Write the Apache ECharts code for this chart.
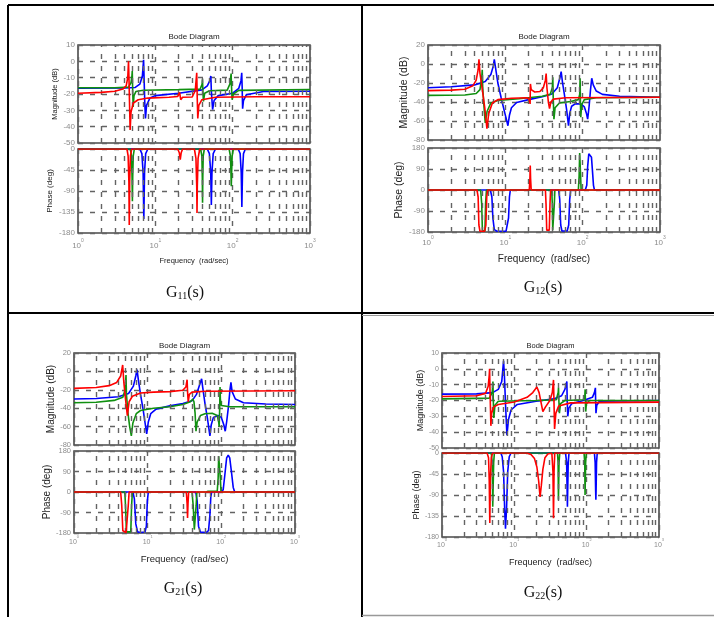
<!DOCTYPE html>
<html>
<head>
<meta charset="utf-8">
<title>Bode diagrams G11 G12 G21 G22</title>
<script src="https://cdn.jsdelivr.net/npm/echarts@6/dist/echarts.min.js"></script>
<style>
  html, body { margin: 0; padding: 0; background: #fff; }
  #main { width: 714px; height: 617px; }
</style>
</head>
<body>
<div id="main"></div>
<script>
// ---- data: [frequency rad/s, value] ----
var minorFreqs = [2,3,4,5,6,7,8,9,20,30,40,50,60,70,80,90,200,300,400,500,600,700,800,900];
var magTicksA = [10, 0, -10, -20, -30, -40, -50];
var phTicksA = [0, -45, -90, -135, -180];
var magTicksB = [20, 0, -20, -40, -60, -80];
var phTicksB = [180, 90, 0, -90, -180];

// G11
var g11MagRed = [[1,-19.5],[2,-19],[3,-18.3],[3.8,-17],[4.2,-15],[4.4,-10],[4.5,0],[4.57,-12],[4.65,-28],[4.72,-42],[4.85,-31],[5.2,-25.5],[6,-23.5],[8,-22.5],[15,-22],[19.5,-21.5],[20.6,-19],[21.3,-23.5],[22.5,-22],[30,-21.8],[32.8,-18],[34.3,-7],[34.8,-22],[35.4,-35],[36.5,-27],[40,-23.5],[60,-22],[200,-21.7],[1000,-21.7]];
var g11MagGreen = [[1,-16.2],[3,-16.2],[4.5,-15.8],[4.85,-13],[4.98,-9],[5.03,-6],[5.08,-15],[5.17,-28],[5.3,-21],[5.6,-18.5],[7,-17.7],[20,-17.3],[38,-17],[40.2,-14],[40.7,-11],[41.2,-18],[41.9,-24.5],[43.5,-19.5],[50,-18],[85,-17.6],[92,-14],[95.5,-7.5],[96.5,-15],[98.5,-23.5],[102,-20],[120,-17.8],[1000,-17.2]];
var g11MagBlue = [[1,-16.5],[4,-16.3],[5.5,-16],[6.3,-14],[6.8,-9],[7.05,1],[7.15,-10],[7.3,-25],[7.45,-35],[7.7,-27],[8.5,-22.5],[10,-21],[20,-19.5],[40,-17.5],[47,-15],[50.5,-12],[52.2,-9],[53,-18],[55,-29.5],[57.5,-24],[65,-21],[100,-19.5],[120,-16.5],[128,-12],[131,-7],[132.5,-15],[134.5,-29],[138,-24],[150,-20.5],[250,-18.5],[1000,-18.3]];
var g11PhRed = [[1,0],[4.3,0],[4.45,-15],[4.55,-70],[4.6,-163],[4.66,-70],[4.76,-15],[4.95,0],[19.5,0],[20.4,-8],[21,-23],[21.6,-8],[22.5,0],[32,0],[33.5,-20],[34.3,-80],[34.6,-137],[34.9,-80],[35.7,-20],[37.5,0],[1000,0]];
var g11PhGreen = [[1,0],[4.75,0],[4.92,-15],[5.0,-60],[5.05,-112],[5.1,-60],[5.18,-15],[5.35,0],[38.5,0],[40,-15],[40.5,-60],[40.8,-115],[41.1,-60],[41.6,-15],[43,0],[90,0],[93.5,-15],[95,-50],[96,-80],[97,-50],[98.5,-15],[102,0],[1000,0]];
var g11PhBlue = [[1,0],[6.3,0],[6.7,-10],[6.95,-50],[7.1,-150],[7.25,-50],[7.5,-10],[8,0],[47,0],[50,-10],[52,-50],[53,-120],[54,-50],[56,-10],[60,0],[118,0],[125,-10],[129,-50],[131.5,-124],[134,-50],[138,-10],[146,0],[1000,0]];

// G12
var g12MagRed = [[1,-28],[2,-27.5],[3,-26.5],[3.8,-23],[4.2,-17],[4.45,-6],[4.56,5],[4.7,-10],[5.0,-25],[5.4,-45],[5.78,-68],[6.1,-52],[6.8,-41],[8,-37.5],[12,-36],[19,-35.5],[20.4,-37],[20.9,-42],[21.1,-21],[21.6,-27],[24,-29.5],[28,-29],[31,-25],[33,-17],[33.7,-10],[34.5,-25],[36,-40],[37.3,-47],[38.8,-40],[42,-37],[60,-35.5],[1000,-35]];
var g12MagGreen = [[1,-33],[3,-32.7],[4.2,-31],[4.7,-27],[4.95,-15],[5.03,-6],[5.1,-25],[5.3,-45],[5.5,-62],[5.8,-50],[6.5,-41],[8,-38.5],[15,-36.5],[30,-34],[38,-32],[40.5,-25],[41.1,-14],[41.6,-35],[42.5,-58],[44,-46],[50,-41],[70,-39.5],[88,-37.5],[91.5,-32],[92.7,-15],[93.5,-40],[94.5,-56],[97,-43],[105,-37.5],[150,-35.5],[1000,-35]];
var g12MagBlue = [[1,-25],[2,-24],[4,-22],[5.5,-18.5],[6.5,-11],[7.0,-2],[7.2,5],[7.6,-8],[8.0,-20],[8.8,-35],[9.6,-48],[10.3,-58],[10.8,-65],[11.3,-54],[12,-46],[14,-40.5],[20,-37.5],[30,-34.5],[40,-31.5],[47,-25],[51,-14],[52.7,-8],[55,-20],[58,-32],[62,-48],[65.6,-65],[68,-52],[72,-44.5],[80,-42],[95,-42],[105,-45],[112,-52],[116,-58],[121,-45],[126,-28],[131,-15],[137,-22],[150,-28.5],[180,-32],[300,-34],[1000,-35]];
var g12PhRed = [[1,0],[4.3,0],[4.45,-30],[4.55,-150],[4.7,-177],[5.4,-177],[5.6,-150],[5.75,-30],[5.9,0],[20.4,0],[20.8,50],[21.0,105],[21.2,50],[21.6,0],[33,0],[33.6,-60],[34.3,-172],[37,-172],[37.8,-60],[38.5,0],[1000,0]];
var g12PhGreen = [[1,0],[4.8,0],[4.95,-60],[5.05,-175],[5.45,-175],[5.55,-60],[5.7,0],[39.8,0],[40.5,-60],[41,-172],[42.5,-172],[43,-60],[43.7,0],[88,0],[90,60],[91.5,158],[93,158],[94,60],[95.5,0],[1000,0]];
var g12PhBlue = [[1,0],[6.4,0],[6.7,-30],[6.9,-120],[7.2,-170],[7.8,-177],[10.2,-177],[10.7,-170],[11.0,-120],[11.3,-30],[11.6,0],[49,0],[50.5,-40],[52,-150],[54,-176],[63,-176],[66,-150],[68,-40],[70,0],[108,0],[113,20],[116,100],[120,155],[125,160],[130,140],[134,80],[138,20],[142,0],[1000,0]];

// G21
var g21MagRed = [[1,-18.5],[2,-17.5],[3,-15.5],[3.8,-12],[4.3,-5],[4.58,7],[4.75,-12],[5.0,-30],[5.3,-48],[5.6,-33],[6.2,-27],[8,-23.5],[12,-22.5],[20,-22],[30,-20.5],[33,-17],[34.3,-9],[34.8,-22],[35.5,-33],[36.8,-25],[40,-22.5],[60,-21.5],[1000,-21]];
var g21MagGreen = [[1,-34],[2,-33.5],[3.5,-31.5],[4.6,-28],[4.95,-20],[5.08,-4],[5.15,-25],[5.4,-45],[5.7,-60],[6.0,-70],[6.3,-56],[7,-46],[8,-42.5],[12,-40],[20,-38.5],[30,-36],[38,-33],[41,-30],[42.5,-33],[44,-45],[45.3,-65],[47,-55],[52,-48],[60,-46],[75,-45.5],[88,-48],[92,-55],[93.5,-60],[95,-40],[96,-17],[97,-30],[100,-37],[130,-38.5],[1000,-38.5]];
var g21MagBlue = [[1,-30],[2,-29.5],[4,-27.5],[5.5,-24],[6.4,-16],[6.9,-5],[7.17,2],[7.5,-10],[8.0,-25],[8.7,-42],[9.3,-58],[9.7,-68],[10.2,-55],[11,-46],[13,-41],[20,-37.5],[30,-35],[40,-32],[46,-25],[51,-14],[54,-8],[56,-18],[60,-35],[65,-52],[70,-70],[73,-58],[78,-50],[90,-48],[100,-50],[108,-58],[113,-65],[118,-55],[125,-38],[131,-20],[135,-12],[140,-22],[155,-30],[200,-34],[400,-35.5],[1000,-36]];
var g21PhRed = [[1,0],[4.3,0],[4.45,-60],[4.6,-170],[4.8,-178],[5.1,-178],[5.3,-170],[5.45,-60],[5.6,0],[33.5,0],[34.3,-50],[34.8,-114],[35.3,-50],[36,0],[1000,0]];
var g21PhGreen = [[1,0],[4.9,0],[5.0,-60],[5.15,-175],[5.9,-175],[6.05,-60],[6.2,0],[40,0],[41.5,-60],[43,-165],[44.5,-165],[45.5,-60],[46.5,0],[62,0],[66,3],[88,3],[90.5,60],[92,158],[96,158],[97,60],[99,0],[1000,0]];
var g21PhBlue = [[1,0],[6.3,0],[6.6,-30],[6.9,-140],[7.3,-175],[8,-178],[9.2,-176],[9.6,-150],[9.9,-40],[10.2,0],[45,0],[47,-40],[49,-150],[52,-176],[62,-178],[67,-170],[70,-100],[72,-20],[74,0],[100,0],[106,10],[112,80],[118,150],[124,162],[130,150],[137,90],[145,20],[152,0],[1000,0]];

// G22
var g22MagRed = [[1,-17.5],[3,-17],[4,-15.5],[4.35,-11],[4.5,-4],[4.55,0],[4.6,-12],[4.68,-25],[4.74,-36],[4.85,-28],[5.2,-24],[6,-22.5],[10,-21],[15,-18],[18,-15],[20.5,-11.5],[22,-15],[24.8,-27],[27,-24],[31,-20],[33.5,-15],[34.8,-7],[35.3,-20],[36,-38],[37.5,-28],[41,-23.5],[60,-21.5],[1000,-21]];
var g22MagGreen = [[1,-19],[4.5,-18.5],[4.95,-15],[5.06,-8],[5.12,-20],[5.2,-31],[5.4,-23],[6,-20.5],[20,-20],[38,-19.5],[40.4,-15],[40.8,-12],[41.3,-20],[42,-28],[43.5,-22],[50,-20],[90,-19.5],[94.5,-16],[95.3,-13],[96,-20],[97,-27],[99,-22],[110,-20],[1000,-20]];
var g22MagBlue = [[1,-16],[3,-15.8],[5,-15],[6,-13],[6.7,-8],[7.1,5],[7.3,-5],[7.6,-25],[7.9,-42],[8.3,-32],[9,-26],[11,-22.5],[20,-20.5],[35,-19],[45,-17],[50,-13],[53.2,-8],[53.8,-20],[54.8,-30],[56.5,-25],[62,-22],[90,-20],[120,-18],[128,-15],[132,-12],[133,-20],[134.5,-28],[138,-23],[150,-20.5],[1000,-20]];
var g22PhRed = [[1,0],[4.2,0],[4.4,-10],[4.5,-60],[4.58,-150],[4.66,-60],[4.8,-10],[5.0,0],[15,0],[17,-3],[19,-12],[20.5,-30],[21.7,-60],[22.7,-94],[23.6,-70],[24.8,-35],[26.5,-10],[29,-2],[33,0],[34.2,-40],[34.8,-140],[35.4,-40],[36.2,0],[1000,0]];
var g22PhGreen = [[1,0],[4.8,0],[4.95,-20],[5.03,-115],[5.1,-115],[5.18,-20],[5.3,0],[39.5,0],[40.3,-20],[40.7,-100],[41.1,-100],[41.5,-20],[42.5,0],[92,0],[94,-20],[95,-90],[95.8,-90],[96.8,-20],[99,0],[1000,0]];
var g22PhBlue = [[1,0],[6.5,0],[6.8,-8],[7.1,-40],[7.35,-120],[7.55,-162],[7.8,-120],[8.1,-40],[8.5,-8],[9,0],[51,0],[52.8,-20],[53.7,-80],[54.2,-115],[54.7,-80],[55.6,-20],[57,0],[128,0],[131,-20],[133,-80],[134,-100],[135,-80],[137,-20],[140,0],[1000,0]];

// ---- layout of the four panels ----
var FONT = 'Liberation Sans, Arial, sans-serif';
var COLORS = ['#0000ff', '#109010', '#ff0000'];   // blue, green, red (red drawn last)

var panels = [
  {sub: '11', left: 78, width: 232, magTop: 45, magH: 98, phTop: 149, phH: 84,
   magTicks: magTicksA, phTicks: phTicksA, mag: [g11MagBlue, g11MagGreen, g11MagRed], ph: [g11PhBlue, g11PhGreen, g11PhRed],
   titleY: 37, labelX: 185, labelY: 291, tickFs: 8, magFs: 7.5, phFs: 8, magGap: 19, phGap: 24, xFs: 8, xMargin: 5, xNameFs: 7.5, xNameGap: 24, titleFs: 8},
  {sub: '12', left: 428, width: 232, magTop: 45, magH: 95, phTop: 148, phH: 84,
   magTicks: magTicksB, phTicks: phTicksB, mag: [g12MagBlue, g12MagGreen, g12MagRed], ph: [g12PhBlue, g12PhGreen, g12PhRed],
   titleY: 37, labelX: 543, labelY: 286, tickFs: 8, magFs: 10.5, phFs: 10.5, magGap: 17, phGap: 23, xFs: 8, xMargin: 3, xNameFs: 10, xNameGap: 22, titleFs: 8},
  {sub: '21', left: 74, width: 221, magTop: 353, magH: 92, phTop: 451, phH: 82,
   magTicks: magTicksB, phTicks: phTicksB, mag: [g21MagBlue, g21MagGreen, g21MagRed], ph: [g21PhBlue, g21PhGreen, g21PhRed],
   titleY: 346, labelX: 183, labelY: 587, tickFs: 7.5, magFs: 10, phFs: 10, magGap: 16, phGap: 22, xFs: 7, xMargin: 2, xNameFs: 9.5, xNameGap: 21, titleFs: 8},
  {sub: '22', left: 442, width: 217, magTop: 353, magH: 95, phTop: 453, phH: 84,
   magTicks: magTicksA, phTicks: phTicksA, mag: [g22MagBlue, g22MagGreen, g22MagRed], ph: [g22PhBlue, g22PhGreen, g22PhRed],
   titleY: 346, labelX: 543, labelY: 591, tickFs: 7, magFs: 9, phFs: 9, magGap: 15, phGap: 20, xFs: 7, xMargin: 1, xNameFs: 9, xNameGap: 21, titleFs: 7.5}
];

var gridLine = {color: '#636363', width: 1.4, type: [5, 7]};

function xAxisDef(g, showLabels, p) {
  return {
    type: 'log', logBase: 10, gridIndex: g, min: 1, max: 1000,
    axisLine: {show: false}, axisTick: {show: false},
    splitLine: {show: true, lineStyle: gridLine},
    axisLabel: {
      show: showLabels, margin: p.xMargin,
      formatter: function (v) { return '{b|10}{s|' + Math.round(Math.log10(v)) + '}'; },
      rich: {
        b: {fontSize: p.xFs, color: '#8c8c8c', fontFamily: FONT, lineHeight: p.xFs + 4, verticalAlign: 'bottom'},
        s: {fontSize: p.xFs - 3, color: '#8c8c8c', fontFamily: FONT, lineHeight: p.xFs + 4, verticalAlign: 'top'}
      }
    },
    name: showLabels ? 'Frequency  (rad/sec)' : '',
    nameLocation: 'middle', nameGap: p.xNameGap,
    nameTextStyle: {fontSize: p.xNameFs, color: '#222', fontFamily: FONT}
  };
}

function yAxisDef(g, ticks, name, fs, gap, p) {
  return {
    type: 'value', gridIndex: g,
    min: ticks[ticks.length - 1], max: ticks[0], interval: ticks[0] - ticks[1],
    axisLine: {show: false}, axisTick: {show: false},
    axisLabel: {color: '#8c8c8c', fontSize: p.tickFs, margin: 3, fontFamily: FONT},
    splitLine: {show: true, lineStyle: gridLine},
    name: name, nameLocation: 'middle', nameGap: gap,
    nameTextStyle: {fontSize: fs, color: '#222', fontFamily: FONT}
  };
}

var option = {
  animation: false,
  backgroundColor: '#fff',
  grid: [], xAxis: [], yAxis: [], series: [], graphic: []
};

panels.forEach(function (p, i) {
  var gm = i * 2, gp = i * 2 + 1;
  var boxes = [[p.magTop, p.magH], [p.phTop, p.phH]];
  boxes.forEach(function (b) {
    option.grid.push({left: p.left, top: b[0], width: p.width, height: b[1],
      show: true, borderColor: '#4a4a4a', borderWidth: 1.6, backgroundColor: 'transparent'});
  });
  option.xAxis.push(xAxisDef(gm, false, p));
  option.xAxis.push(xAxisDef(gp, true, p));
  option.yAxis.push(yAxisDef(gm, p.magTicks, 'Magnitude (dB)', p.magFs, p.magGap, p));
  option.yAxis.push(yAxisDef(gp, p.phTicks, 'Phase (deg)', p.phFs, p.phGap, p));

  [gm, gp].forEach(function (g) {
    option.series.push({
      type: 'line', xAxisIndex: g, yAxisIndex: g, data: [], z: 1, silent: true,
      markLine: {
        silent: true, symbol: ['none', 'none'], label: {show: false},
        lineStyle: gridLine, emphasis: {disabled: true},
        data: minorFreqs.map(function (f) { return {xAxis: f}; })
      }
    });
  });

  [[gm, p.mag], [gp, p.ph]].forEach(function (pair) {
    pair[1].forEach(function (arr, k) {
      option.series.push({
        type: 'line', xAxisIndex: pair[0], yAxisIndex: pair[0], data: arr,
        showSymbol: false, symbol: 'none', z: 3 + k, silent: true,
        lineStyle: {color: COLORS[k], width: 1.6}
      });
    });
  });

  option.graphic.push({
    type: 'text', x: p.left + p.width / 2, y: p.titleY,
    style: {text: 'Bode Diagram', fill: '#222', font: p.titleFs + 'px ' + FONT,
      align: 'center', verticalAlign: 'middle', textAlign: 'center', textVerticalAlign: 'middle'}
  });
  option.graphic.push({
    type: 'text', x: p.labelX, y: p.labelY,
    style: {
      text: '{g|G}{s|' + p.sub + '}{g|(s)}',
      align: 'center', verticalAlign: 'middle', textAlign: 'center', textVerticalAlign: 'middle',
      rich: {
        g: {fontSize: 16, fontFamily: 'Liberation Serif, Times New Roman, serif', fill: '#111', lineHeight: 20, verticalAlign: 'bottom'},
        s: {fontSize: 10, fontFamily: 'Liberation Serif, Times New Roman, serif', fill: '#111', lineHeight: 20, verticalAlign: 'bottom'}
      }
    }
  });
});

// table rules
var rules = [
  [8, 5, 714, 5, '#000', 2],
  [8, 5, 8, 617, '#000', 2],
  [362, 5, 362, 617, '#000', 2],
  [8, 313, 714, 313, '#000', 2],
  [362, 315.5, 714, 315.5, '#999', 1],
  [362, 615.5, 714, 615.5, '#999', 1.5]
];
rules.forEach(function (r) {
  option.graphic.push({type: 'line', shape: {x1: r[0], y1: r[1], x2: r[2], y2: r[3]},
    style: {stroke: r[4], lineWidth: r[5]}, z: 10});
});

var chart = echarts.init(document.getElementById('main'), null, {renderer: 'canvas'});
chart.setOption(option);
</script>
</body>
</html>
